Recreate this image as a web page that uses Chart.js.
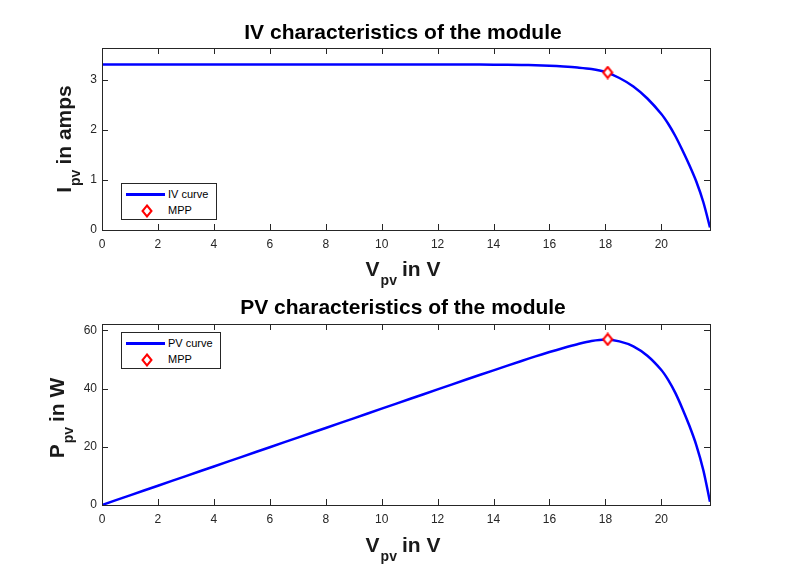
<!DOCTYPE html>
<html lang="en">
<head>
<meta charset="UTF-8">
<title>IV and PV characteristics of the module</title>
<script src="https://cdn.jsdelivr.net/npm/chart.js"></script>
<style>
    body { margin: 0; background: #fff; font-family: "Liberation Sans", Arial, sans-serif; }
    #wrap { position: relative; width: 786px; height: 580px; overflow: hidden; }
    canvas { position: absolute; left: 0; }
    .title, .xlab, .ylab { position: absolute; font-weight: bold; font-size: 21px; line-height: 21px; white-space: nowrap; }
    .title { color: #000; transform: translateX(-50%); }
    .xlab { color: #1a1a1a; transform: translateX(-50%); }
    .ylab { color: #1a1a1a; transform: translate(-50%, -50%) rotate(-90deg); }
    .sub { font-size: 14px; position: relative; top: 9px; margin: 0 5px 0 1px; }
    .legend { position: absolute; border: 1px solid #262626; background: #fff; font-size: 11px; color: #000; }
    .legend .row { position: absolute; left: 0; height: 14px; line-height: 14px; }
    .legend .swatch { position: absolute; left: 4px; top: 6px; width: 39px; height: 2.5px; background: #0000ff; }
    .legend svg { position: absolute; left: 19px; top: 1px; }
    .legend .txt { position: absolute; left: 46px; top: 0; }
</style>
</head>
<body>
<div id="wrap">
    <canvas id="ivChart" width="786" height="290" style="top:0"></canvas>
    <canvas id="pvChart" width="786" height="290" style="top:290px"></canvas>

    <div class="title" style="left:403px; top:21px;">IV characteristics of the module</div>
    <div class="xlab" style="left:403px; top:258px;">V<span class="sub">pv</span>in V</div>
    <div class="ylab" style="left:65px; top:139px;">I<span class="sub">pv</span>in amps</div>

    <div class="title" style="left:403px; top:296px;">PV characteristics of the module</div>
    <div class="xlab" style="left:403px; top:534px;">V<span class="sub">pv</span>in V</div>
    <div class="ylab" style="left:58px; top:418px;">P<span class="sub">pv</span>in W</div>

    <div class="legend" style="left:121px; top:183px; width:94px; height:35px;">
        <div class="row" style="top:3px; width:94px;"><div class="swatch"></div><span class="txt">IV curve</span></div>
        <div class="row" style="top:19px; width:94px;">
            <svg width="12" height="14"><polygon points="6,1.5 10.5,7 6,12.5 1.5,7" fill="#fff" stroke="#ff0000" stroke-width="2"/></svg>
            <span class="txt">MPP</span>
        </div>
    </div>
    <div class="legend" style="left:121px; top:332px; width:98px; height:35px;">
        <div class="row" style="top:3px; width:98px;"><div class="swatch"></div><span class="txt">PV curve</span></div>
        <div class="row" style="top:19px; width:98px;">
            <svg width="12" height="14"><polygon points="6,1.5 10.5,7 6,12.5 1.5,7" fill="#fff" stroke="#ff0000" stroke-width="2"/></svg>
            <span class="txt">MPP</span>
        </div>
    </div>
</div>

<script>
    // Values
    const voltage = [0, 1, 2, 3, 4, 5, 6, 7, 8, 9, 10, 11, 12, 13, 14, 15, 15.5, 16, 16.5, 17, 17.5,
                     18, 18.5, 19, 19.5, 20, 20.25, 20.5, 20.75, 21, 21.25, 21.5, 21.74];
    const current = [3.31, 3.31, 3.31, 3.31, 3.31, 3.31, 3.31, 3.31, 3.31, 3.31, 3.31, 3.31, 3.31, 3.31,
                     3.305, 3.30, 3.295, 3.285, 3.27, 3.25, 3.22, 3.16, 3.04, 2.87, 2.63, 2.32, 2.12,
                     1.88, 1.60, 1.30, 0.97, 0.56, 0.05];
    const power = [0, 3.31, 6.62, 9.93, 13.24, 16.55, 19.86, 23.17, 26.48, 29.79, 33.1, 36.41, 39.72,
                   43.03, 46.27, 49.5, 51.07, 52.56, 53.96, 55.25, 56.35, 56.88, 56.24, 54.53, 51.29,
                   46.4, 42.93, 38.54, 33.2, 27.3, 20.61, 12.04, 1.09];

    const mppV = [18.08];
    const mppI = [3.15];
    const mppP = [56.9];

    const xMax = 21.74;
    const iMax = 3.64;
    const pMax = 62.2;

    const axisColor = '#262626';

    // MATLAB-like diamond marker
    const diamond = document.createElement('canvas');
    diamond.width = 12;
    diamond.height = 14;
    (function () {
        const c = diamond.getContext('2d');
        c.beginPath();
        c.moveTo(6, 1.5);
        c.lineTo(10.5, 7);
        c.lineTo(6, 12.5);
        c.lineTo(1.5, 7);
        c.closePath();
        c.fillStyle = '#fff';
        c.fill();
        c.lineWidth = 2;
        c.strokeStyle = '#ff0000';
        c.stroke();
    })();

    // Box round the axes with inward ticks on all four sides
    const boxTicks = {
        id: 'boxTicks',
        afterDatasetsDraw(chart) {
            const ctx = chart.ctx;
            const a = chart.chartArea;
            const xs = chart.scales.x;
            const ys = chart.scales.y;
            const len = 6;
            ctx.save();
            ctx.strokeStyle = axisColor;
            ctx.lineWidth = 1;
            ctx.beginPath();
            xs.ticks.forEach(t => {
                const px = Math.round(xs.getPixelForValue(t.value)) + 0.5;
                ctx.moveTo(px, a.bottom); ctx.lineTo(px, a.bottom - len);
                ctx.moveTo(px, a.top); ctx.lineTo(px, a.top + len);
            });
            ys.ticks.forEach(t => {
                const py = Math.round(ys.getPixelForValue(t.value)) + 0.5;
                ctx.moveTo(a.left, py); ctx.lineTo(a.left + len, py);
                ctx.moveTo(a.right, py); ctx.lineTo(a.right - len, py);
            });
            ctx.stroke();
            ctx.strokeRect(Math.round(a.left) + 0.5, Math.round(a.top) + 0.5,
                           Math.round(a.right - a.left), Math.round(a.bottom - a.top));
            ctx.restore();
        }
    };

    function makeChart(id, yValues, mppY, yMaxVal, yStep, padTop, padBottom) {
        const curve = voltage.map((v, i) => ({ x: v, y: yValues[i] }));
        const mpp = mppV.map((v, i) => ({ x: v, y: mppY[i] }));
        return new Chart(document.getElementById(id), {
            type: 'scatter',
            data: {
                datasets: [
                    {
                        data: mpp,
                        pointStyle: diamond,
                        pointRadius: 6,
                        order: 0
                    },
                    {
                        data: curve,
                        showLine: true,
                        borderColor: '#0000ff',
                        borderWidth: 2.5,
                        pointRadius: 0,
                        tension: 0.3,
                        order: 1
                    }
                ]
            },
            options: {
                responsive: false,
                animation: false,
                devicePixelRatio: 1,
                layout: { padding: { top: padTop, right: 76, bottom: padBottom, left: 0 } },
                plugins: { legend: { display: false }, title: { display: false }, tooltip: { enabled: false } },
                scales: {
                    x: {
                        type: 'linear',
                        min: 0,
                        max: xMax,
                        grid: { display: false, drawTicks: false },
                        border: { display: false },
                        ticks: {
                            stepSize: 2,
                            includeBounds: false,
                            padding: 7,
                            color: axisColor,
                            maxRotation: 0,
                            font: { family: 'Liberation Sans', size: 12 }
                        },
                        afterFit(scale) { scale.height = 30; }
                    },
                    y: {
                        type: 'linear',
                        min: 0,
                        max: yMaxVal,
                        grid: { display: false, drawTicks: false },
                        border: { display: false },
                        ticks: {
                            stepSize: yStep,
                            includeBounds: false,
                            padding: 5,
                            color: axisColor,
                            font: { family: 'Liberation Sans', size: 12 }
                        },
                        afterFit(scale) { scale.width = 102; }
                    }
                }
            },
            plugins: [boxTicks]
        });
    }

    makeChart('ivChart', current, mppI, iMax, 1, 48, 30);
    makeChart('pvChart', power, mppP, pMax, 20, 34, 45);
</script>
</body>
</html>
